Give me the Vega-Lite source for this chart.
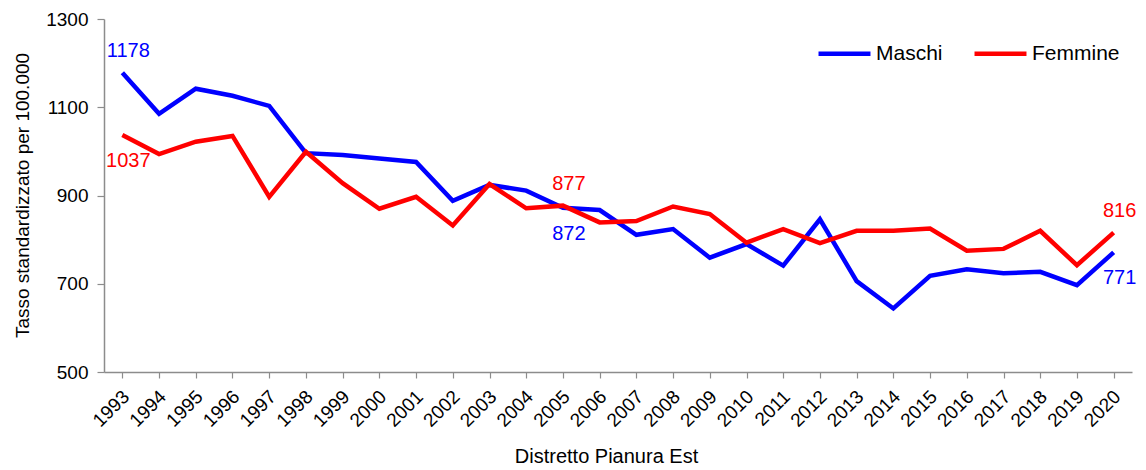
{
  "$schema": "https://vega.github.io/schema/vega-lite/v6.json",
  "autosize": {"type": "none"},
  "padding": {"left": 104, "top": 19, "right": 14, "bottom": 98},
  "width": 1028,
  "height": 353,
  "background": "white",
  "config": {
    "font": "Liberation Sans",
    "view": {"stroke": null}
  },
  "data": {
    "values": [
      {"year": "1993", "series": "Maschi", "value": 1178},
      {"year": "1994", "series": "Maschi", "value": 1085},
      {"year": "1995", "series": "Maschi", "value": 1142},
      {"year": "1996", "series": "Maschi", "value": 1126},
      {"year": "1997", "series": "Maschi", "value": 1103},
      {"year": "1998", "series": "Maschi", "value": 996},
      {"year": "1999", "series": "Maschi", "value": 992},
      {"year": "2000", "series": "Maschi", "value": 984},
      {"year": "2001", "series": "Maschi", "value": 976},
      {"year": "2002", "series": "Maschi", "value": 888},
      {"year": "2003", "series": "Maschi", "value": 924},
      {"year": "2004", "series": "Maschi", "value": 911},
      {"year": "2005", "series": "Maschi", "value": 872},
      {"year": "2006", "series": "Maschi", "value": 867},
      {"year": "2007", "series": "Maschi", "value": 811},
      {"year": "2008", "series": "Maschi", "value": 824},
      {"year": "2009", "series": "Maschi", "value": 759},
      {"year": "2010", "series": "Maschi", "value": 790},
      {"year": "2011", "series": "Maschi", "value": 741},
      {"year": "2012", "series": "Maschi", "value": 846},
      {"year": "2013", "series": "Maschi", "value": 706},
      {"year": "2014", "series": "Maschi", "value": 644},
      {"year": "2015", "series": "Maschi", "value": 718},
      {"year": "2016", "series": "Maschi", "value": 733},
      {"year": "2017", "series": "Maschi", "value": 724},
      {"year": "2018", "series": "Maschi", "value": 727},
      {"year": "2019", "series": "Maschi", "value": 697},
      {"year": "2020", "series": "Maschi", "value": 771},
      {"year": "1993", "series": "Femmine", "value": 1037},
      {"year": "1994", "series": "Femmine", "value": 994},
      {"year": "1995", "series": "Femmine", "value": 1022},
      {"year": "1996", "series": "Femmine", "value": 1035},
      {"year": "1997", "series": "Femmine", "value": 897},
      {"year": "1998", "series": "Femmine", "value": 999},
      {"year": "1999", "series": "Femmine", "value": 928},
      {"year": "2000", "series": "Femmine", "value": 870},
      {"year": "2001", "series": "Femmine", "value": 897},
      {"year": "2002", "series": "Femmine", "value": 832},
      {"year": "2003", "series": "Femmine", "value": 926},
      {"year": "2004", "series": "Femmine", "value": 871},
      {"year": "2005", "series": "Femmine", "value": 877},
      {"year": "2006", "series": "Femmine", "value": 839},
      {"year": "2007", "series": "Femmine", "value": 842},
      {"year": "2008", "series": "Femmine", "value": 875},
      {"year": "2009", "series": "Femmine", "value": 858},
      {"year": "2010", "series": "Femmine", "value": 793},
      {"year": "2011", "series": "Femmine", "value": 824},
      {"year": "2012", "series": "Femmine", "value": 792},
      {"year": "2013", "series": "Femmine", "value": 820},
      {"year": "2014", "series": "Femmine", "value": 820},
      {"year": "2015", "series": "Femmine", "value": 825},
      {"year": "2016", "series": "Femmine", "value": 775},
      {"year": "2017", "series": "Femmine", "value": 779},
      {"year": "2018", "series": "Femmine", "value": 820},
      {"year": "2019", "series": "Femmine", "value": 742},
      {"year": "2020", "series": "Femmine", "value": 816}
    ]
  },
  "encoding": {
    "x": {
      "field": "year",
      "type": "ordinal",
      "scale": {"paddingInner": 0, "paddingOuter": 0},
      "axis": {
        "title": "Distretto Pianura Est",
        "titleFontSize": 20,
        "titleFontWeight": "normal",
        "titleColor": "#000000",
        "titleX": 502,
        "titleY": 84,
        "titleBaseline": "middle",
        "labelAngle": -45,
        "labelFontSize": 19,
        "labelColor": "#000000",
        "labelPadding": 9,
        "labelOffset": -3,
        "bandPosition": 0,
        "tickSize": 6,
        "tickColor": "#8c8c8c",
        "domainColor": "#8c8c8c",
        "domainWidth": 1.5,
        "tickWidth": 1.2,
        "grid": false
      }
    },
    "y": {
      "field": "value",
      "type": "quantitative",
      "scale": {"domain": [500, 1300], "nice": false, "zero": false},
      "axis": {
        "title": "Tasso standardizzato per 100.000",
        "titleFontSize": 19,
        "titleFontWeight": "normal",
        "titleColor": "#000000",
        "titleX": -82,
        "titleY": 176,
        "titleAlign": "center",
        "titleBaseline": "middle",
        "values": [500, 700, 900, 1100, 1300],
        "format": "d",
        "labelFontSize": 19,
        "labelColor": "#000000",
        "labelPadding": 9,
        "tickSize": 7,
        "tickColor": "#8c8c8c",
        "domainColor": "#8c8c8c",
        "domainWidth": 1.5,
        "tickWidth": 1.2,
        "grid": false
      }
    },
    "color": {
      "field": "series",
      "type": "nominal",
      "scale": {"domain": ["Maschi", "Femmine"], "range": ["#0000FF", "#FF0000"]}
    }
  },
  "layer": [
    {
      "mark": {"type": "line", "strokeWidth": 4.5, "strokeJoin": "miter"},
      "encoding": {
        "color": {
          "field": "series",
          "type": "nominal",
          "scale": {"domain": ["Maschi", "Femmine"], "range": ["#0000FF", "#FF0000"]},
          "legend": {
            "title": null,
            "orient": "none",
            "direction": "horizontal",
            "legendX": 712,
            "legendY": 6,
            "symbolType": "stroke",
            "symbolSize": 2700,
            "symbolStrokeWidth": 4.5,
            "labelFontSize": 21,
            "labelColor": "#000000",
            "labelOffset": 3,
            "columnPadding": 22,
            "symbolOffset": 0
          }
        }
      }
    },
    {
      "transform": [
        {"filter": "(datum.series == 'Maschi' && datum.year == '1993') || (datum.series == 'Femmine' && (datum.year == '2005' || datum.year == '2020'))"}
      ],
      "mark": {"type": "text", "fontSize": 20, "dy": -22, "dx": 6, "align": "center", "baseline": "middle"},
      "encoding": {"text": {"field": "value", "type": "quantitative"}}
    },
    {
      "transform": [
        {"filter": "(datum.series == 'Femmine' && datum.year == '1993') || (datum.series == 'Maschi' && (datum.year == '2005' || datum.year == '2020'))"}
      ],
      "mark": {"type": "text", "fontSize": 20, "dy": 26, "dx": 6, "align": "center", "baseline": "middle"},
      "encoding": {"text": {"field": "value", "type": "quantitative"}}
    }
  ]
}
